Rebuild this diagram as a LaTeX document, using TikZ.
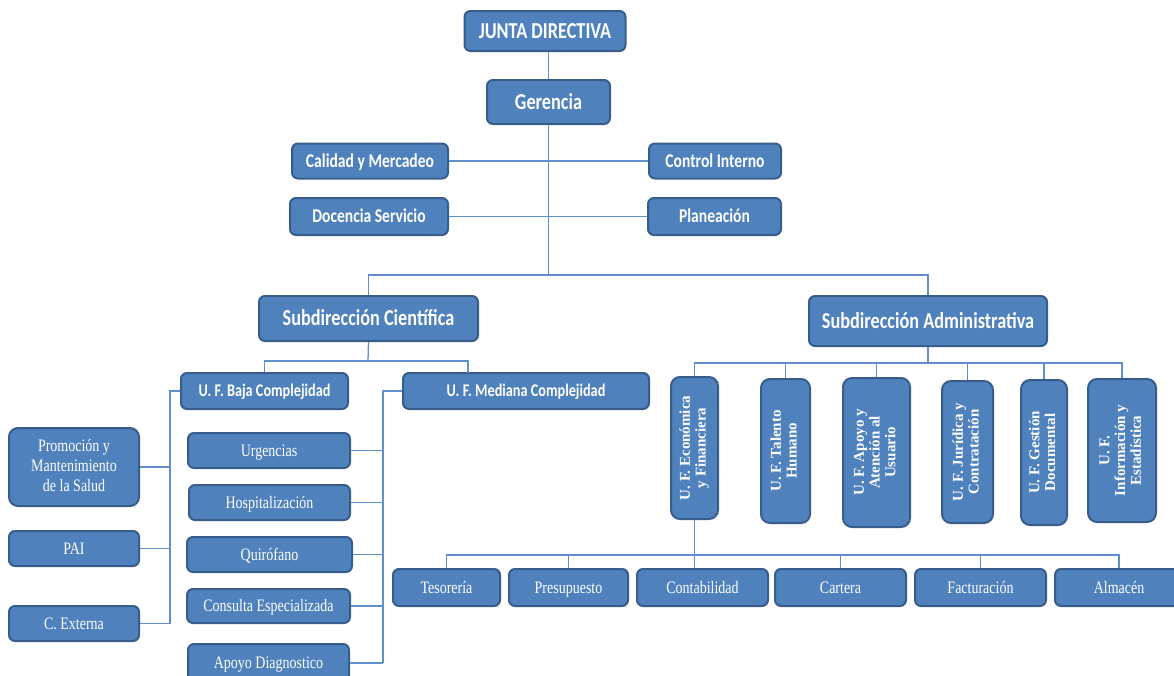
\documentclass[tikz,border=0pt]{standalone}
\usepackage{graphicx}
\usepackage{fontspec}
\setmainfont{Liberation Serif}
\newfontfamily\calib{Carlito}
\usetikzlibrary{calc}
\definecolor{boxfill}{HTML}{4F81BD}
\definecolor{boxline}{HTML}{385D8A}
\definecolor{connc}{HTML}{5F90CC}
\newcommand\sqz[1]{\scalebox{0.8}[1]{#1}}
\newcommand\sqzm[1]{\scalebox{0.8}[1]{\begin{tabular}{@{}c@{}}#1\end{tabular}}}
\begin{document}
\begin{tikzpicture}[x=1pt,y=-1pt,
 box/.style={draw=boxline, line width=2pt, fill=boxfill, rounded corners=6pt, text=white, inner sep=0pt, align=center},
 topbox/.style={box, font=\calib\bfseries\fontsize{19.5}{22}\selectfont, text height=12.6pt, text depth=0pt},
 bigbox/.style={box, font=\calib\bfseries\fontsize{22.8}{25}\selectfont, text height=14.7pt, text depth=0pt},
 ufbox/.style={box, font=\calib\bfseries\fontsize{17.8}{20}\selectfont, text height=11.5pt, text depth=0pt},
 serbox/.style={box, font=\fontsize{17.5}{20}\selectfont, text height=11.6pt, text depth=0pt},
 multibox/.style={box, font=\fontsize{17.5}{20}\selectfont},
 vbox/.style={box, rounded corners=9pt, font=\bfseries\fontsize{15}{15.8}\selectfont},
 conn/.style={draw=connc, line width=1.3pt}]
\useasboundingbox (0,0) rectangle (1174,675);
\clip (0,0) rectangle (1174,675);
% top
\node[bigbox, minimum width=161, minimum height=40] (jd) at (545,31) {\sqz{JUNTA DIRECTIVA}};
\node[bigbox, minimum width=123, minimum height=44] (ger) at (548.5,102) {\sqz{Gerencia}};
\node[topbox, minimum width=156, minimum height=35] (cal) at (370,161) {\sqz{Calidad y Mercadeo}};
\node[topbox, minimum width=132, minimum height=35] (ctl) at (715,161) {\sqz{Control Interno}};
\node[topbox, minimum width=158, minimum height=37] (doc) at (369,216.5) {\sqz{Docencia Servicio}};
\node[topbox, minimum width=133, minimum height=37] (pla) at (714.5,216.5) {\sqz{Planeación}};
\node[bigbox, minimum width=219, minimum height=45] (scient) at (368.5,318.5) {\sqz{Subdirección Científica}};
\node[bigbox, minimum width=238, minimum height=50] (sadm) at (928,321) {\sqz{Subdirección Administrativa}};
\node[ufbox, minimum width=167, minimum height=36] (baja) at (264.5,391) {\sqz{U. F. Baja Complejidad}};
\node[ufbox, minimum width=246, minimum height=36] (med) at (526,391) {\sqz{U. F. Mediana Complejidad}};
% left column
\node[multibox, minimum width=130, minimum height=78, rounded corners=9pt] (prom) at (74,467) {\sqzm{Promoción y\\Mantenimiento\\de la Salud}};
\node[serbox, minimum width=130, minimum height=35] (pai) at (74,548.5) {\sqz{PAI}};
\node[serbox, minimum width=130, minimum height=35] (cext) at (74,623.5) {\sqz{C. Externa}};
% middle column
\node[serbox, minimum width=162, minimum height=35] (urg) at (269,450.5) {\sqz{Urgencias}};
\node[serbox, minimum width=161, minimum height=35] (hosp) at (269.5,502.5) {\sqz{Hospitalización}};
\node[serbox, minimum width=165, minimum height=35] (quir) at (269.5,554.5) {\sqz{Quirófano}};
\node[serbox, minimum width=163, minimum height=34] (cons) at (268.5,606) {\sqz{Consulta Especializada}};
\node[serbox, minimum width=161, minimum height=38] (apoyo) at (268.5,663) {\sqz{Apoyo Diagnostico}};
% vertical boxes
\node[vbox, minimum width=47, minimum height=142] (ecf) at (694.5,448) {\rotatebox{90}{\begin{tabular}{@{}c@{}}U. F. Económica\\y Financiera\end{tabular}}};
\node[vbox, minimum width=49, minimum height=144] (tal) at (785.5,451) {\rotatebox{90}{\begin{tabular}{@{}c@{}}U. F. Talento\\Humano\end{tabular}}};
\node[vbox, minimum width=67, minimum height=149] (aten) at (876.5,452.5) {\rotatebox{90}{\begin{tabular}{@{}c@{}}U. F. Apoyo y\\Atención al\\Usuario\end{tabular}}};
\node[vbox, minimum width=51, minimum height=142] (jur) at (967.5,452) {\rotatebox{90}{\begin{tabular}{@{}c@{}}U. F. Jurídica y\\Contratación\end{tabular}}};
\node[vbox, minimum width=46, minimum height=145] (ges) at (1044,452.5) {\rotatebox{90}{\begin{tabular}{@{}c@{}}U. F. Gestión\\Documental\end{tabular}}};
\node[vbox, minimum width=68, minimum height=143] (inf) at (1122,450.5) {\rotatebox{90}{\begin{tabular}{@{}c@{}}U. F.\\Información y\\Estadística\end{tabular}}};
% bottom row
\node[serbox, minimum width=107, minimum height=37] (tes) at (446.5,587.5) {\sqz{Tesorería}};
\node[serbox, minimum width=119, minimum height=37] (pre) at (568.5,587.5) {\sqz{Presupuesto}};
\node[serbox, minimum width=131, minimum height=37] (con) at (702.5,587.5) {\sqz{Contabilidad}};
\node[serbox, minimum width=131, minimum height=37] (car) at (840.5,587.5) {\sqz{Cartera}};
\node[serbox, minimum width=131, minimum height=37] (fac) at (980.5,587.5) {\sqz{Facturación}};
\node[serbox, minimum width=128, minimum height=37] (alm) at (1119,587.5) {\sqz{Almacén}};
% connectors
\coordinate (gbus) at (548,275);
\draw[conn] (ger.north |- jd.south) -- (ger.north);
\draw[conn] (ger.south) -- (ger.south |- gbus);
\draw[conn] (cal.east) -- (cal.east -| ger.south);
\draw[conn] (ctl.west) -- (ctl.west -| ger.south);
\draw[conn] (doc.east) -- (doc.east -| ger.south);
\draw[conn] (pla.west) -- (pla.west -| ger.south);
\draw[conn] (scient.north) |- (gbus) -| (sadm.north);
\coordinate (sbus) at (368,361);
\coordinate (medtop) at (468,373);
\draw[conn] (scient.south) -- (sbus);
\draw[conn] (baja.north) |- (sbus) -| (medtop);
\coordinate (lb) at (170,391);
\draw[conn] (baja.west) -- (lb) -- (lb |- cext.east);
\draw[conn] (prom.east) -- (prom.east -| lb);
\draw[conn] (pai.east) -- (pai.east -| lb);
\draw[conn] (cext.east) -- (cext.east -| lb);
\coordinate (mb) at (383,391);
\draw[conn] (med.west) -- (mb) -- (mb |- apoyo.east);
\draw[conn] (urg.east) -- (urg.east -| mb);
\draw[conn] (hosp.east) -- (hosp.east -| mb);
\draw[conn] (quir.east) -- (quir.east -| mb);
\draw[conn] (cons.east) -- (cons.east -| mb);
\draw[conn] (apoyo.east) -- (apoyo.east -| mb);
\coordinate (abus) at (928,363);
\draw[conn] (sadm.south) -- (abus);
\draw[conn] (ecf.north) |- (abus) -| (inf.north);
\draw[conn] (tal.north) -- (tal.north |- abus);
\draw[conn] (aten.north) -- (aten.north |- abus);
\draw[conn] (jur.north) -- (jur.north |- abus);
\draw[conn] (ges.north) -- (ges.north |- abus);
\coordinate (bbus) at (700,555);
\draw[conn] (tes.north) |- (bbus) -| (alm.north);
\draw[conn] (pre.north) -- (pre.north |- bbus);
\draw[conn] (car.north) -- (car.north |- bbus);
\draw[conn] (fac.north) -- (fac.north |- bbus);
\draw[conn] (ecf.south) -- (ecf.south |- con.north);
\end{tikzpicture}
\end{document}
